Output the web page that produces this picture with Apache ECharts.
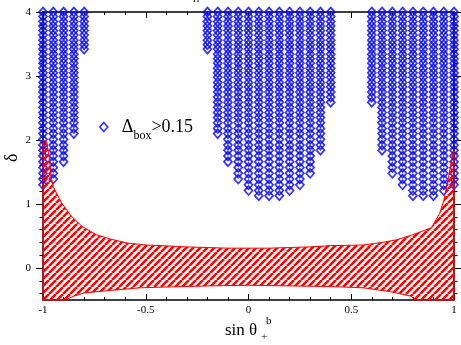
<!DOCTYPE html>
<html>
<head>
<meta charset="utf-8">
<script src="https://cdn.jsdelivr.net/npm/echarts@6/dist/echarts.min.js"></script>
<style>
html, body { margin: 0; padding: 0; background: #fff; }
#main { width: 461px; height: 345px; }
</style>
</head>
<body>
<div id="main"></div>
<script>
// columns of the scan (sin theta) and lowest delta reached by the blue points in each one
var colX   = [-1, -0.95, -0.9, -0.85, -0.8, -0.2, -0.15, -0.1, -0.05, 0, 0.05, 0.1, 0.15, 0.2, 0.25, 0.3, 0.35, 0.4, 0.6, 0.65, 0.7, 0.75, 0.8, 0.85, 0.9, 0.95, 1];
var colLow = [1.26, 1.41, 1.65, 2.14, 3.39, 3.39, 2.14, 1.65, 1.41, 1.24, 1.14, 1.14, 1.14, 1.19, 1.28, 1.48, 1.83, 2.58, 2.58, 1.83, 1.48, 1.28, 1.14, 1.14, 1.14, 1.19, 1.26];
// delta rows of the scan
var yGrid = [4.00, 3.93, 3.85, 3.78, 3.71, 3.64, 3.56, 3.49, 3.42, 3.34, 3.27, 3.20, 3.12, 3.05, 2.98, 2.90,
             2.83, 2.75, 2.67, 2.59, 2.51, 2.43, 2.35, 2.27, 2.18, 2.10, 2.01, 1.92, 1.84, 1.75, 1.66, 1.57,
             1.48, 1.39, 1.30, 1.21, 1.13];

// hatched band: upper and lower edges
var upperX = [-1, -0.982, -0.97, -0.958, -0.95, -0.91, -0.862, -0.81, -0.74, -0.67, -0.59, -0.5, -0.43, -0.3, -0.2, -0.1, 0,
              0.1, 0.2, 0.3, 0.4, 0.5, 0.56, 0.65, 0.72, 0.8, 0.89, 0.93, 0.95, 0.975, 0.995, 1];
var upperY = [2.0, 1.97, 1.74, 1.38, 1.27, 1.02, 0.81, 0.65, 0.52, 0.45, 0.39, 0.36, 0.35, 0.33, 0.32, 0.31, 0.31,
              0.31, 0.32, 0.33, 0.35, 0.355, 0.36, 0.40, 0.44, 0.52, 0.63, 0.85, 1.05, 1.45, 1.8, 1.85];
var lowerX = [-1, -0.893, -0.85, -0.8, -0.67, -0.53, -0.43, -0.2, 0, 0.2, 0.4, 0.56, 0.69, 0.79, 0.81, 1];
var lowerY = [-0.5, -0.5, -0.44, -0.39, -0.35, -0.31, -0.30, -0.28, -0.27, -0.28, -0.29, -0.31, -0.37, -0.44, -0.5, -0.5];

var yMajor = [0, 1, 2, 3, 4];
var yMinor = [-0.4, -0.2, 0.2, 0.4, 0.6, 0.8, 1.2, 1.4, 1.6, 1.8, 2.2, 2.4, 2.6, 2.8, 3.2, 3.4, 3.6, 3.8];

var serif = 'Liberation Serif';

var points = [];
colX.forEach(function (x, i) {
    yGrid.forEach(function (y) {
        if (y >= colLow[i] - 0.04) {
            points.push([x, y]);
        }
    });
});

// red diagonal stripes
var tile = document.createElement('canvas');
tile.width = 7;
tile.height = 7;
var ctx = tile.getContext('2d');
ctx.strokeStyle = '#ff0000';
ctx.lineWidth = 2.6;
for (var k = -1; k <= 1; k++) {
    ctx.beginPath();
    ctx.moveTo(k * 7, 7);
    ctx.lineTo(k * 7 + 7, 0);
    ctx.stroke();
}

var black = { color: '#000', width: 1.5 };

function yAxisOf(pos, ticks, len, main) {
    return {
        type: 'value', position: pos, min: -0.5, max: 4,
        axisLine: { show: main, onZero: false, lineStyle: black },
        axisTick: { show: true, inside: false, length: len, customValues: ticks, lineStyle: { color: '#000', width: 1 } },
        axisLabel: main && pos === 'left' ? {
            show: true, customValues: yMajor, margin: 12, color: '#000', fontFamily: serif, fontSize: 11
        } : { show: false },
        splitLine: { show: false }
    };
}

function xAxisOf(pos, labels) {
    return {
        type: 'value', position: pos, min: -1, max: 1, interval: 0.5,
        axisLine: { show: true, onZero: false, lineStyle: black },
        axisTick: { show: true, inside: true, length: 6, lineStyle: { color: '#000', width: 1 } },
        minorTick: { show: true, splitNumber: 5, length: 3, lineStyle: { color: '#000', width: 1 } },
        axisLabel: { show: labels, margin: 5, color: '#000', fontFamily: serif, fontSize: 11 },
        splitLine: { show: false }
    };
}

var chart = echarts.init(document.getElementById('main'));
chart.setOption({
    animation: false,
    backgroundColor: '#fff',
    grid: { left: 43, right: 7, top: 12, bottom: 45, containLabel: false, outerBoundsMode: 'none' },
    xAxis: [xAxisOf('bottom', true), xAxisOf('top', false)],
    yAxis: [
        yAxisOf('left', yMajor, 7, true),
        yAxisOf('right', yMajor, 7, true),
        yAxisOf('left', yMinor, 3.5, false),
        yAxisOf('right', yMinor, 3.5, false)
    ],
    legend: {
        left: 99, top: 112, padding: 0, itemWidth: 8, itemHeight: 9,
        selectedMode: false,
        data: [{ name: 'Δbox>0.15', icon: 'diamond',
                 itemStyle: { color: 'transparent', borderColor: '#0000ff', borderWidth: 1.6 } }],
        formatter: function () { return '{a|Δ}{s|box}{m|>0.15}'; },
        textStyle: {
            rich: {
                a: { fontFamily: serif, fontSize: 18, color: '#000', lineHeight: 20, padding: [0, 0, 0, 9] },
                m: { fontFamily: serif, fontSize: 18, color: '#000', lineHeight: 20 },
                s: { fontFamily: serif, fontSize: 12, color: '#000', lineHeight: 12, padding: [18, 0, 0, 0] }
            }
        }
    },
    graphic: [
        { type: 'text', x: 225, y: 322, style: { text: 'sin θ', font: '17px "Liberation Serif"', fill: '#000' } },
        { type: 'text', x: 261, y: 332, style: { text: '+', font: '11px "Liberation Serif"', fill: '#000' } },
        { type: 'text', x: 266, y: 316, style: { text: 'b', font: '11px "Liberation Serif"', fill: '#000' } },
        { type: 'text', x: 3, y: 162, rotation: Math.PI / 2,
          style: { text: 'δ', font: '18px "Liberation Serif"', fill: '#000' } },
        { type: 'text', x: 193, y: -5, style: { text: 'H', font: '9px "Liberation Serif"', fill: '#000' } }
    ],
    series: [
        {
            name: 'Δbox>0.15',
            type: 'scatter',
            data: points,
            symbol: 'diamond',
            symbolSize: [8, 9],
            clip: false,
            itemStyle: { color: 'transparent', borderColor: '#0000ff', borderWidth: 1.7 },
            emphasis: { disabled: true },
            z: 2
        },
        {
            name: 'band',
            type: 'custom',
            data: [[0, 0]],
            z: 3,
            silent: true,
            renderItem: function (params, api) {
                if (params.dataIndex !== 0) return;
                var pts = [];
                for (var i = 0; i < upperX.length; i++) {
                    pts.push(api.coord([upperX[i], upperY[i]]));
                }
                for (var j = lowerX.length - 1; j >= 0; j--) {
                    pts.push(api.coord([lowerX[j], lowerY[j]]));
                }
                return {
                    type: 'polygon',
                    shape: { points: pts },
                    style: { fill: { image: tile, repeat: 'repeat' }, stroke: '#ff0000', lineWidth: 1 }
                };
            }
        }
    ]
});
</script>
</body>
</html>
